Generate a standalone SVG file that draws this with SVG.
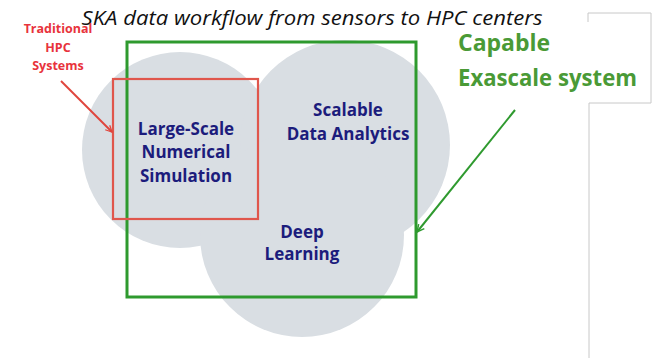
<svg xmlns="http://www.w3.org/2000/svg" width="654" height="358" viewBox="0 0 654 358">
<style>
.c{fill:#d9dee3}
.t{font-family:"Open Sans","Liberation Sans",sans-serif;font-weight:bold;text-anchor:middle}
.b{fill:#1c1c7c;font-size:17px}
.r{fill:#e8333c;font-size:12.5px}
.g{fill:#4a9a36;font-size:23px;text-anchor:start}
</style>
<defs>
<marker id="ar" viewBox="0 0 10 10" refX="9" refY="5" markerWidth="8" markerHeight="8" orient="auto" markerUnits="userSpaceOnUse"><path d="M1,1 L9,5 L1,9" fill="none" stroke="#e0453d" stroke-width="1.6"/></marker>
<marker id="ag" viewBox="0 0 10 10" refX="9" refY="5" markerWidth="9" markerHeight="9" orient="auto" markerUnits="userSpaceOnUse"><path d="M1,1 L9,5 L1,9" fill="none" stroke="#2f9a2f" stroke-width="1.6"/></marker>
</defs>
<rect width="654" height="358" fill="#ffffff"/>
<path d="M588,22 V13 H651 V103 H589 V358" fill="none" stroke="#c8c8c8" stroke-width="1"/>
<g id="circles">
<circle class="c" cx="180" cy="150" r="98"/>
<circle class="c" cx="345" cy="145" r="105"/>
<circle class="c" cx="302" cy="235" r="102"/>
</g>
<text x="312" y="25" font-family="'Open Sans','Liberation Sans',sans-serif" font-style="italic" font-size="20" fill="#111" text-anchor="middle" textLength="461" lengthAdjust="spacingAndGlyphs">SKA data workflow from sensors to HPC centers</text>
<g id="exascale">
<rect x="127" y="42" width="289" height="255" fill="none" stroke="#2e9a2e" stroke-width="3"/>
<text class="t g" x="458" y="51">Capable</text>
<text class="t g" x="458" y="86" textLength="179" lengthAdjust="spacingAndGlyphs">Exascale system</text>
</g>
<g id="traditional">
<rect x="113" y="79" width="145" height="140" fill="none" stroke="#e0564c" stroke-width="2.2"/>
<text class="t r" x="58" y="33">Traditional</text>
<text class="t r" x="58" y="52">HPC</text>
<text class="t r" x="58" y="70">Systems</text>
</g>
<g id="simulation">
<text class="t b" x="186" y="135">Large-Scale</text>
<text class="t b" x="186" y="158">Numerical</text>
<text class="t b" x="186" y="182">Simulation</text>
</g>
<g id="analytics">
<text class="t b" x="348" y="116">Scalable</text>
<text class="t b" x="348" y="140">Data Analytics</text>
</g>
<g id="deep">
<text class="t b" x="302" y="238">Deep</text>
<text class="t b" x="302" y="260">Learning</text>
</g>
<g id="connectors">
<line x1="61" y1="81" x2="112" y2="132" stroke="#e0453d" stroke-width="2" marker-end="url(#ar)"/>
<line x1="515" y1="110" x2="417" y2="232" stroke="#2f9a2f" stroke-width="2" marker-end="url(#ag)"/>
</g>
</svg>
